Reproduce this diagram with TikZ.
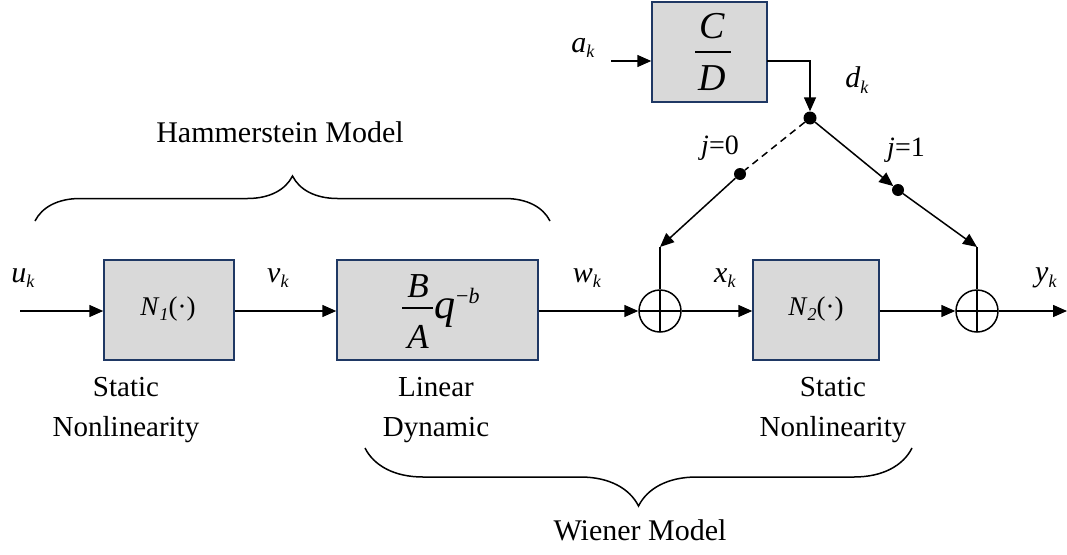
\documentclass[tikz,border=0pt]{standalone}
\usepackage{fontspec}
\setmainfont{Liberation Serif}
\usetikzlibrary{arrows.meta,decorations.pathreplacing}
\definecolor{boxfill}{RGB}{217,217,217}
\definecolor{boxline}{RGB}{31,56,100}
\newcommand\sgl[2]{\textit{#1}\raisebox{-0.4ex}{\fontsize{18}{18}\selectfont\textit{#2}}}
\begin{document}
\begin{tikzpicture}[x=1pt,y=-1pt,
  blk/.style={draw=boxline,fill=boxfill,line width=1.5pt,inner sep=0pt},
  wire/.style={line width=1.5pt},
  arr/.style={wire,-{Triangle[length=14pt,width=12pt]}},
  sumnode/.style={circle,draw,line width=1.5pt,minimum size=42pt,inner sep=0pt,
    path picture={\draw[line width=1.5pt] (path picture bounding box.north) -- (path picture bounding box.south) (path picture bounding box.west) -- (path picture bounding box.east);}},
  jdot/.style={circle,fill,inner sep=0pt,minimum size=12pt},
  lbl/.style={font=\fontsize{30}{34}\selectfont,inner sep=0pt},
  captxt/.style={font=\fontsize{29}{40}\selectfont,inner sep=0pt,align=center},
  fr/.style={font=\fontsize{35}{35}\selectfont,inner sep=0pt,anchor=base},
  blktxt/.style={font=\fontsize{27}{27}\selectfont,inner sep=0pt,anchor=base},
  brc/.style={decorate,decoration={brace,amplitude=#1},line width=1.5pt}
]
\useasboundingbox (0,0) rectangle (1067,554);

% blocks
\node[blk,minimum width=130pt,minimum height=100pt] (n1) at (169,310) {};
\node[blk,minimum width=201pt,minimum height=100pt] (ba) at (437.5,310) {};
\node[blk,minimum width=126pt,minimum height=100pt] (n2) at (816,310) {};
\node[blk,minimum width=115pt,minimum height=100pt] (cd) at (709.5,52) {};

% block texts
\node[blktxt] (t1txt) at (168,315) {\textit{N}\raisebox{-0.45ex}{\fontsize{18}{18}\selectfont\textit{1}}(·)};
\node[blktxt] (t2txt) at (816,315) {\textit{N}\raisebox{-0.45ex}{\fontsize{18}{18}\selectfont\textit{2}}(·)};

% fraction B/A q^-b
\node[fr] (fB) at (418,297) {\textit{B}};
\node[fr] (fA) at (418,348) {\textit{A}};
\draw[wire] (402,308) -- (433,308);
\node[fr,anchor=base west,font=\fontsize{42}{42}\selectfont] (fq) at (434,318) {\textit{q}};
\node[font=\fontsize{22}{22}\selectfont,inner sep=0pt,anchor=base west] (fb) at (456,303) {−\textit{b}};
% fraction C/D
\node[fr,font=\fontsize{38}{38}\selectfont] (fC) at (712,38) {\textit{C}};
\node[fr,font=\fontsize{38}{38}\selectfont] (fD) at (712,90) {\textit{D}};
\draw[wire] (695,52) -- (731,52);

% summing junctions
\node[sumnode] (s1) at (660,311) {};
\node[sumnode] (s2) at (977,311) {};

% dots
\node[jdot,minimum size=13pt] (jn) at (810,118) {};
\node[jdot] (j0) at (740,174) {};
\node[jdot] (j1) at (898,190) {};

% coordinates
\coordinate (uin) at (20,311);
\coordinate (yout) at (1067,311);
\coordinate (ain) at (611,61);
\coordinate (cdout) at (767,61);
\coordinate (t1) at (660,247);
\coordinate (t2) at (977,247);

% connectors
\draw[arr] (uin) -- (n1.west |- uin);
\draw[arr] (n1.east |- uin) -- (ba.west |- uin);
\draw[arr] (ba.east |- uin) -- (s1.west);
\draw[arr] (s1.east) -- (n2.west |- uin);
\draw[arr] (n2.east |- uin) -- (s2.west);
\draw[arr] (s2.east) -- (yout);
\draw[arr] (ain) -- (cd.west |- ain);
\draw[arr] (cdout) -| (jn.north);
\draw[wire,dashed,dash pattern=on 7pt off 5pt] (jn) -- (j0);
\draw[arr] (jn) -- (j1);
\draw[arr] (j0) -- (t1);
\draw[wire] (t1) -- (s1.north);
\draw[arr] (j1) -- (t2);
\draw[wire] (t2) -- (s2.north);

% signal labels
\node[lbl] (lu) at (23,278) {\sgl{u}{k}};
\node[lbl] (lv) at (278,278) {\sgl{v}{k}};
\node[lbl] (lw) at (587,278) {\sgl{w}{k}};
\node[lbl] (lx) at (725,278) {\sgl{x}{k}};
\node[lbl] (ly) at (1046,278) {\sgl{y}{k}};
\node[lbl] (la) at (583,48) {\sgl{a}{k}};
\node[lbl] (ld) at (857,80) {\sgl{d}{k}};
\node[lbl,font=\fontsize{28}{30}\selectfont] (lj0) at (720,148) {\textit{j}=0};
\node[lbl,font=\fontsize{28}{30}\selectfont] (lj1) at (906,150) {\textit{j}=1};

% captions
\node[captxt] (c1) at (126,410) {Static\\Nonlinearity};
\node[captxt] (c2) at (436,410) {Linear\\Dynamic};
\node[captxt] (c3) at (833,410) {Static\\Nonlinearity};
\node[captxt,font=\fontsize{30}{36}\selectfont] (hm) at (280,132) {Hammerstein Model};
\node[captxt,font=\fontsize{30}{36}\selectfont] (wm) at (640,530) {Wiener Model};

% braces
\draw[brc=45pt] (35,221) -- (550,221);
\draw[brc=58pt] (912,448) -- (365,448);
\end{tikzpicture}
\end{document}
